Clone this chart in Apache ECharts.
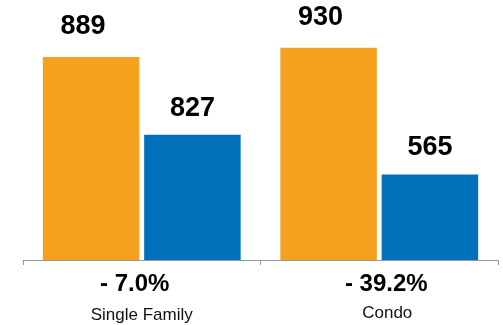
<!DOCTYPE html>
<html>
<head>
<meta charset="utf-8">
<script src="https://cdn.jsdelivr.net/npm/echarts@6/dist/echarts.min.js"></script>
<style>html,body{margin:0;padding:0;background:#fff}#c{width:503px;height:325px}</style>
</head>
<body>
<div id="c"></div>
<script>
const categories = ['Single Family', 'Condo'];
const orangeValues = [889, 930];
const blueValues = [827, 565];
const changeLabels = ['- 7.0%', '- 39.2%'];

const FONT = '"Liberation Sans", Arial, Helvetica, sans-serif';
const chart = echarts.init(document.getElementById('c'));
chart.setOption({
  animation: false,
  grid: { left: 23, right: 5, top: 10, bottom: 65 },
  xAxis: {
    type: 'category',
    data: categories,
    axisLine: { lineStyle: { color: '#999', width: 1 } },
    axisTick: { show: true, length: 5, lineStyle: { color: '#999', width: 1 } },
    axisLabel: {
      interval: 0,
      margin: 9,
      formatter: (v, i) => '{p' + i + '|' + changeLabels[i] + '}\n{c' + i + '|' + v + '}',
      rich: {
        p0: { fontSize: 24, fontWeight: 'bold', color: '#000', fontFamily: FONT, lineHeight: 30, padding: [0, 14, 0, 0] },
        p1: { fontSize: 24, fontWeight: 'bold', color: '#000', fontFamily: FONT, lineHeight: 30, padding: [0, 0, 0, 14] },
        c0: { fontSize: 17, color: '#111', fontFamily: FONT, lineHeight: 33 },
        c1: { fontSize: 17, color: '#111', fontFamily: FONT, lineHeight: 29, padding: [0, 0, 0, 16] }
      }
    }
  },
  yAxis: [
    { type: 'value', min: 0, max: 1095, show: false },
    { type: 'value', min: 0, max: 1650, show: false }
  ],
  series: [
    {
      type: 'bar', yAxisIndex: 0, data: orangeValues,
      barWidth: 96.5, barGap: '5%',
      itemStyle: { color: '#F5A01E' },
      label: { show: true, position: 'top', distance: 17, offset: [-8, 0],
        fontSize: 27, fontWeight: 'bold', color: '#000', fontFamily: FONT }
    },
    {
      type: 'bar', yAxisIndex: 1, data: blueValues,
      barWidth: 96.5, barGap: '5%',
      itemStyle: { color: '#0070BB' },
      label: { show: true, position: 'top', distance: 13,
        fontSize: 27, fontWeight: 'bold', color: '#000', fontFamily: FONT }
    }
  ]
});
</script>
</body>
</html>
